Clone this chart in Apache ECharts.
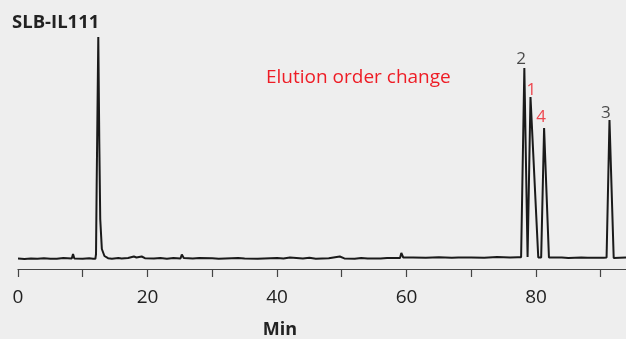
<!DOCTYPE html>
<html>
<head>
<meta charset="utf-8">
<script src="https://cdn.jsdelivr.net/npm/echarts@6/dist/echarts.min.js"></script>
<style>
html,body{margin:0;padding:0;background:#eeeeee;}
#c{width:626px;height:339px;}
</style>
</head>
<body>
<div id="c"></div>
<script>
// Retention time (min) and detector signal (arbitrary units)
const times = [
  0, 1, 2, 3, 4, 5, 6, 7, 8.3, 8.5, 8.7, 10, 11, 11.6, 11.95,
  12.05, 12.15, 12.4, 12.55, 12.7, 12.95, 13.35, 13.9,
  14.5, 15.5, 16, 17, 17.9, 18.1, 18.3, 19.1, 19.3, 19.6, 21, 22, 23, 24, 25.1, 25.3, 25.6, 27, 28, 30, 31, 32, 34, 35, 37, 38,
  40, 41, 42, 44, 45, 46, 48, 49.7, 50.0, 50.4, 52, 53, 54, 56, 57, 59.0, 59.2, 59.5, 61, 63, 65, 67, 68, 70, 72, 74, 76,
  77.2, 77.7, 78.2, 78.7, 79.15, 80.35, 80.8, 81.25,
  82, 84, 85, 87, 88, 90.45, 90.9, 91.35, 92, 93.9
];
const signal = [
  0.5, 0, 0.6, 0.2, 0.8, 0.2, 0.3, 1, 0.5, 5, 0.5, 0.3, 0.8, 0.2, 0.2,
  5, 74, 222, 120, 40, 10, 3, 0.8,
  0.3, 0.9, 0.4, 1, 2.5, 0.6, 1.5, 2.5, 0.6, 0.8, 0.5, 1, 0.3, 0.9, 0.5, 4.5, 1, 0.4, 0.9, 0.8, 0.2, 0.5, 0.9, 0.5, 0.2, 0.6,
  1, 0.4, 1.5, 0.6, 1.2, 0.3, 0.7, 2.5, 0.8, 0.6, 0.3, 1, 0.4, 0.5, 1, 1, 6, 1.5, 1.5, 1.2, 1.8, 1.3, 1.5, 1.5, 1.2, 2, 1.6, 1.8,
  1.8, 191, 2, 162, 1.5, 1.5, 131, 1.5,
  1.5, 1.1, 1.5, 1.2, 1.2, 1.5, 139, 1, 1.5, 1
];
// Peak labels (label anchor positions above each peak)
const peakNames = ['2', '1', '4', '3'];
const labelTimes = [77.7, 79.3, 80.8, 90.8];
const labelLevels = [191, 160, 133, 137];
const peakColors = ['#1e1e1e', '#ee1c25', '#ee1c25', '#1e1e1e'];
// Axis
const xTicks = [0, 20, 40, 60, 80];

const lineData = times.map((t, i) => [t, signal[i]]);
const labelData = peakNames.map((n, i) => ({
  value: [labelTimes[i], labelLevels[i]],
  label: { formatter: n, color: peakColors[i] }
}));

const chart = echarts.init(document.getElementById('c'));
chart.setOption({
  backgroundColor: '#eeeeee',
  animation: false,
  grid: { left: 18, right: 0, top: 29, bottom: 70, containLabel: false, outerBoundsMode: 'none' },
  xAxis: {
    type: 'value', min: 0, max: 93.9, interval: 10,
    axisLine: { onZero: false, lineStyle: { color: '#444', width: 1.2 } },
    axisTick: { length: 8, lineStyle: { color: '#444', width: 1.2 } },
    splitLine: { show: false },
    axisLabel: {
      showMaxLabel: false,
      fontFamily: 'Open Sans', fontSize: 19, color: '#222', margin: 19,
      formatter: v => xTicks.indexOf(v) >= 0 ? String(v) : ''
    }
  },
  yAxis: { type: 'value', min: -10, max: 230, show: false },
  series: [
    {
      type: 'line', data: lineData, showSymbol: false, symbol: 'none',
      lineStyle: { color: '#1a1a1a', width: 2 }, z: 2
    },
    {
      type: 'scatter', data: labelData, symbolSize: 0,
      label: { show: true, position: 'top', distance: 0, fontFamily: 'Open Sans', fontSize: 17 },
      z: 3
    }
  ],
  graphic: [
    { type: 'text', left: 12, top: 13, style: { text: 'SLB-IL111', font: 'bold 18.5px "Open Sans"', fill: '#222' } },
    { type: 'text', left: 266, top: 68, style: { text: 'Elution order change', font: '19px "Open Sans"', fill: '#ee1c25' } },
    { type: 'text', x: 280, y: 330, style: { text: 'Min', font: 'bold 18px "Open Sans"', fill: '#222', align: 'center', verticalAlign: 'middle' } }
  ]
});
</script>
</body>
</html>
